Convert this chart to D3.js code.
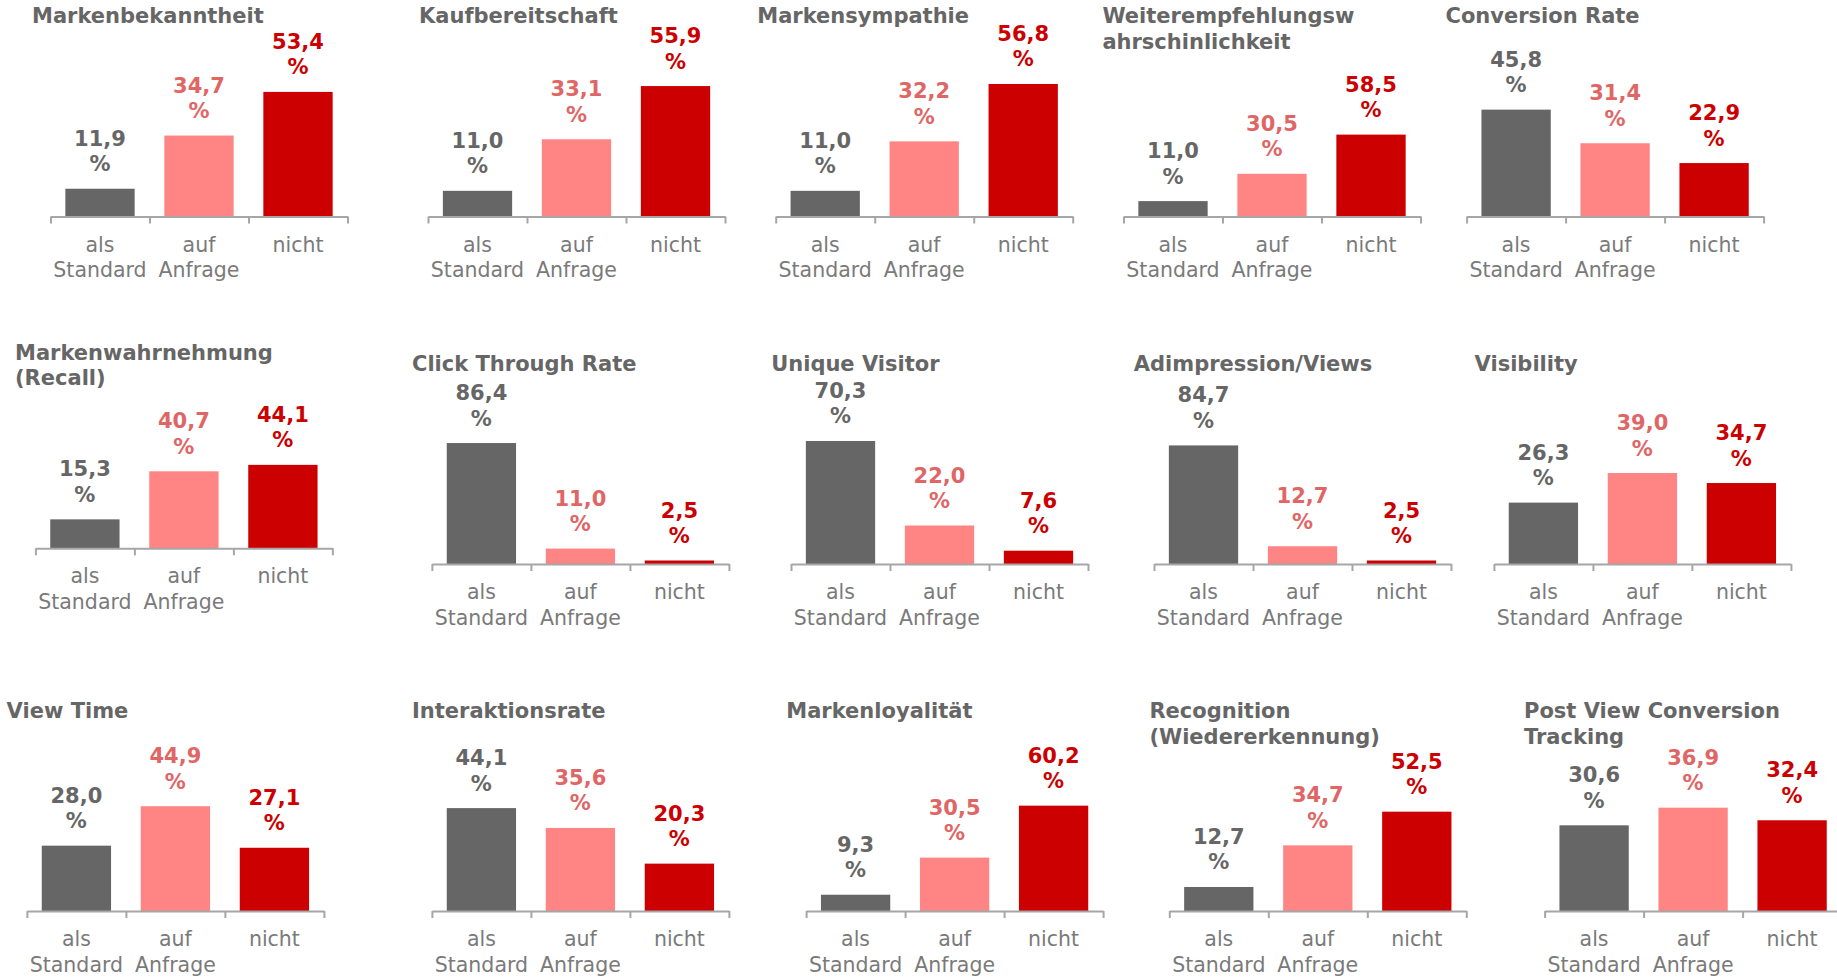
<!DOCTYPE html>
<html>
<head>
<meta charset="utf-8">
<script src="https://cdn.jsdelivr.net/npm/d3@7"></script>
<style>
  body { margin:0; background:white; }
  svg { display:block; }
</style>
</head>
<body>
<svg id="svg__container" width="1837" height="978"></svg>
<script>
// Titel der 15 Diagramme (Zeilenumbruch wie im Original)
const titles=[
    ["Markenbekanntheit"],
    ["Kaufbereitschaft"],
    ["Markensympathie"],
    ["Weiterempfehlungsw","ahrschinlichkeit"],
    ["Conversion Rate"],
    ["Markenwahrnehmung","(Recall)"],
    ["Click Through Rate"],
    ["Unique Visitor"],
    ["Adimpression/Views"],
    ["Visibility"],
    ["View Time"],
    ["Interaktionsrate"],
    ["Markenloyalität"],
    ["Recognition","(Wiedererkennung)"],
    ["Post View Conversion","Tracking"]
];
const categories=[["als","Standard"],["auf","Anfrage"],["nicht"]];

const valAlsStandard=[11.9, 11.0, 11.0, 11.0, 45.8, 15.3, 86.4, 70.3, 84.7, 26.3, 28.0, 44.1, 9.3, 12.7, 30.6];
const valAufAnfrage =[34.7, 33.1, 32.2, 30.5, 31.4, 40.7, 11.0, 22.0, 12.7, 39.0, 44.9, 35.6, 30.5, 34.7, 36.9];
const valNicht      =[53.4, 55.9, 56.8, 58.5, 22.9, 44.1, 2.5, 7.6, 2.5, 34.7, 27.1, 20.3, 60.2, 52.5, 32.4];
// unsichtbare y-Achse: Maximum je Diagramm
const axisMax=[60, 60, 60, 100, 60, 74, 100, 80, 100, 60, 60, 60, 80, 74, 50];

// Layout: Achsenanfang x, Achse y, Titel x, Titel y
const panelPos=[
    [50.5, 216.5, 32, 23], [428, 216.5, 419, 23], [775.7, 216.5, 757.3, 23], [1123.5, 216.5, 1102.4, 23], [1466.6, 216.5, 1445.5, 23],
    [35.4, 548.3, 15, 359.5], [431.9, 564, 412, 370.7], [791, 564, 771.2, 370.7], [1154, 564, 1133.8, 370.7], [1493.9, 564, 1474.6, 370.7],
    [26.9, 911, 6.6, 718.3], [431.9, 911, 412, 718.3], [806.1, 911, 786.3, 718.3], [1169.3, 911, 1149.4, 718.3], [1544.6, 911, 1524, 718.3]
];

const barColors=["#666666","#ff8585","#cc0000"];
const valueColors=["#666666","#e06666","#cc0000"];
const plotW=297;
const plotH=140;
const font="'DejaVu Sans', Verdana, sans-serif";

const svgTag=d3.select("#svg__container");
svgTag.append("rect").attr("width",1837).attr("height",978).attr("fill","white");

titles.forEach((title,i)=>{
    draw(i, [valAlsStandard[i], valAufAnfrage[i], valNicht[i]]);
});

function draw(i, values) {
    const [x0, axisY, titleX, titleY]=panelPos[i];

    // Titel
    const t=svgTag.append("text")
        .attr("x",titleX).attr("y",titleY)
        .attr("font-family",font).attr("font-size",21).attr("font-weight","bold")
        .attr("fill","#666666");
    titles[i].forEach((line,k)=>{
        t.append("tspan").attr("x",titleX).attr("dy",k==0?0:25.8).text(line);
    });

    const g=svgTag.append("g").attr("transform",`translate(${x0},${axisY-plotH})`);

    const x=d3.scaleBand().domain([0,1,2]).range([0,plotW]).paddingInner(0.3).paddingOuter(0.15);
    const y=d3.scaleLinear().domain([0,axisMax[i]]).range([plotH,0]);

    g.selectAll("rect.bar").data(values).join("rect")
        .attr("class","bar")
        .attr("x",(d,k)=>x(k)).attr("y",d=>y(d))
        .attr("width",x.bandwidth()).attr("height",d=>plotH-y(d))
        .attr("fill",(d,k)=>barColors[k]);

    // Wertebeschriftung: Zahl + "%" in zweiter Zeile
    values.forEach((d,k)=>{
        const cx=x(k)+x.bandwidth()/2;
        const lbl=g.append("text")
            .attr("x",cx).attr("y",y(d)-17.5-25.5)
            .attr("text-anchor","middle")
            .attr("font-family",font).attr("font-size",21).attr("font-weight","bold")
            .attr("fill",valueColors[k]);
        lbl.append("tspan").attr("x",cx).text(d.toFixed(1).replace(".",","));
        lbl.append("tspan").attr("x",cx).attr("dy",25.5).text("%");
    });

    // Achse mit Teilstrichen zwischen den Kategorien
    const xb=d3.scaleLinear().domain([0,3]).range([0,plotW]);
    const axisG=g.append("g").attr("transform",`translate(0,${plotH})`)
        .call(d3.axisBottom(xb).tickValues([0,1,2,3]).tickSize(7).tickSizeOuter(0).tickFormat(""));
    axisG.select(".domain").attr("stroke","#a6a6a6").attr("stroke-width",2);
    axisG.selectAll(".tick line").attr("stroke","#a6a6a6").attr("stroke-width",2);

    // Kategorien
    const xc=d3.scaleBand().domain([0,1,2]).range([0,plotW]);
    categories.forEach((cat,k)=>{
        const cx=xc(k)+xc.bandwidth()/2;
        const ct=g.append("text")
            .attr("x",cx).attr("y",plotH+35)
            .attr("text-anchor","middle")
            .attr("font-family",font).attr("font-size",20.5)
            .attr("fill","#7a7a7a");
        cat.forEach((line,m)=>{
            ct.append("tspan").attr("x",cx).attr("dy",m==0?0:25.5).text(line);
        });
    });
}
</script>
</body>
</html>
